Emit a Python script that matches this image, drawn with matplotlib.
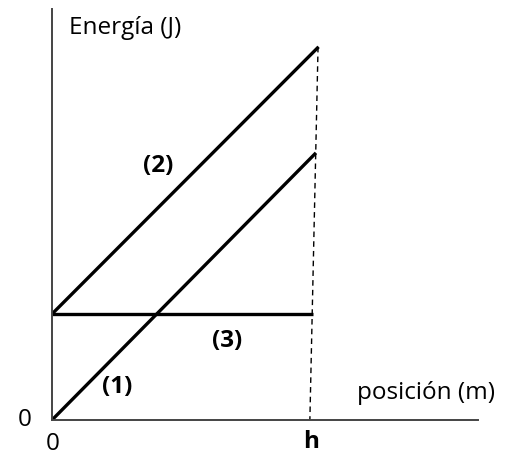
import matplotlib.pyplot as plt

plt.rcParams['font.family'] = ['Open Sans', 'DejaVu Sans']

# lines (x in units of h, energy in units of line (3))
x1 = [0.0, 1.0]
e1 = [0.0, 2.52]
x2 = [0.0, 1.01]
e2 = [1.0, 3.52]
x3 = [0.0, 0.99]
e3 = [1.0, 1.0]
xd = [1.008, 0.977]
ed = [3.52, 0.0]

labels = ['(1)', '(2)', '(3)']
label_pos = [(0.246, 0.31), (0.402, 2.40), (0.663, 0.745)]

fig = plt.figure(figsize=(5.07, 4.57), dpi=100)
ax = fig.add_axes([52 / 507, 37 / 457, 426 / 507, 411 / 457])
ax.set_xlim(0, 1.614)
ax.set_ylim(0, 3.877)

for s in ['top', 'right']:
    ax.spines[s].set_visible(False)
for s in ['left', 'bottom']:
    ax.spines[s].set_color('#444444')
    ax.spines[s].set_linewidth(1.4)
ax.set_xticks([])
ax.set_yticks([])

ax.plot(x1, e1, color='black', lw=2.4, solid_capstyle='butt')
ax.plot(x2, e2, color='black', lw=2.4, solid_capstyle='butt')
ax.plot(x3, e3, color='black', lw=2.4, solid_capstyle='butt')
ax.plot(xd, ed, color='black', lw=1.0, dashes=(4, 3))

fs = 17.5
for lab, (lx, ly) in zip(labels, label_pos):
    ax.text(lx, ly, lab, fontsize=fs, fontweight='bold', ha='center', va='center')

ax.text(0.064, 3.70, 'Energía (J)', fontsize=fs, ha='left', va='center', clip_on=False)
ax.text(1.155, 0.255, 'posición (m)', fontsize=fs, ha='left', va='center', clip_on=False)
ax.text(-0.102, 0.0, '0', fontsize=fs, ha='center', va='center', clip_on=False)
ax.text(0.004, -0.225, '0', fontsize=fs, ha='center', va='center', clip_on=False)
ax.text(0.981, -0.208, 'h', fontsize=fs, fontweight='bold', ha='center', va='center', clip_on=False)

fig.savefig('out.png', dpi=100)
